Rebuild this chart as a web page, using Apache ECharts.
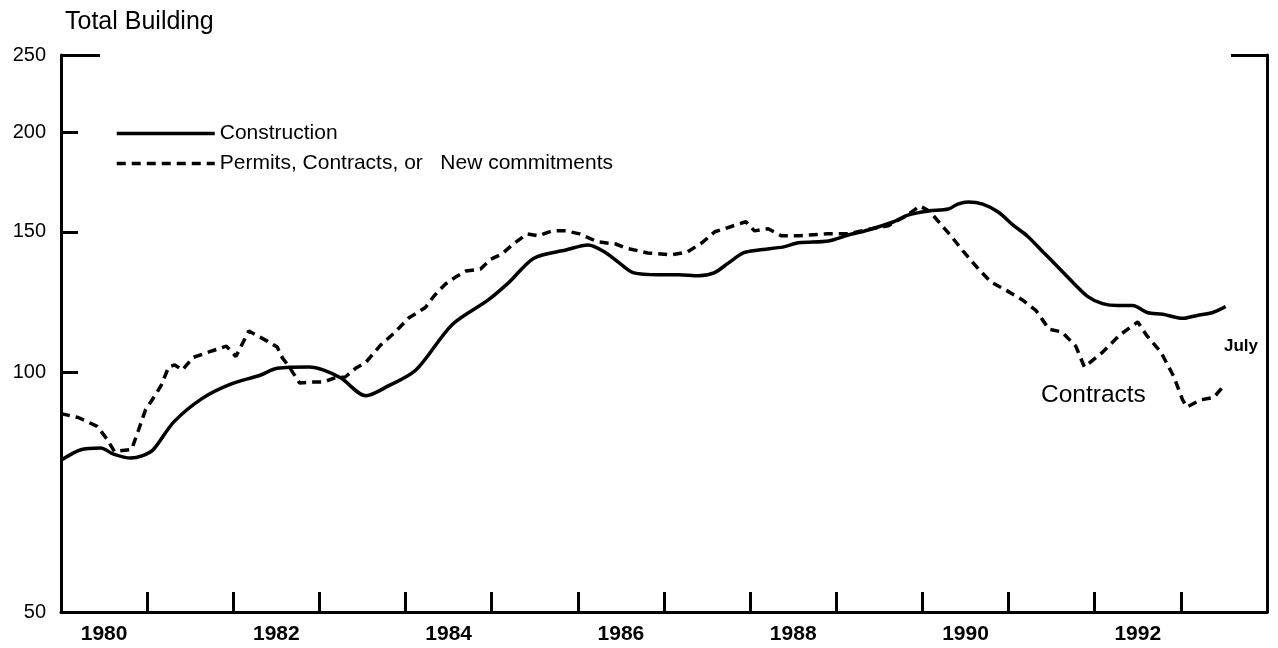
<!DOCTYPE html>
<html>
<head>
<meta charset="utf-8">
<script src="https://cdn.jsdelivr.net/npm/echarts@6/dist/echarts.min.js"></script>
<style>
  html, body { margin: 0; padding: 0; background: #fff; }
  #chart { width: 1278px; height: 648px; }
</style>
</head>
<body>
<div id="chart"></div>
<script>
// ---- Data (decimal year, index value) ----
const constructionT = [1980.00,1980.23,1980.46,1980.61,1980.81,1980.94,1981.07,1981.31,1981.64,1981.97,1982.31,1982.51,1982.88,1983.05,1983.25,1983.54,1983.80,1984.12,1984.54,1984.96,1985.20,1985.49,1985.86,1986.12,1986.31,1986.48,1986.65,1986.94,1987.17,1987.40,1987.58,1987.75,1987.92,1988.10,1988.39,1988.56,1988.91,1989.14,1989.37,1989.66,1989.83,1990.07,1990.30,1990.41,1990.53,1990.70,1990.88,1991.05,1991.22,1991.40,1991.57,1991.75,1991.92,1992.09,1992.27,1992.44,1992.61,1992.79,1993.02,1993.19,1993.37,1993.52];
const constructionV = [77.5,79.9,80.3,78.9,78.0,78.5,79.9,86.6,92.7,96.6,99.1,101.1,101.5,100.6,98.3,93.4,96.1,100.6,114.7,123.2,129.6,139.0,142.3,144.4,141.5,137.1,133.2,132.5,132.5,132.1,133.2,137.1,141.1,142.3,143.6,145.3,146.1,148.6,150.8,154.3,157.4,159.3,160.2,162.5,163.5,162.5,158.8,153.0,148.1,141.5,135.6,129.5,124.4,121.9,121.2,121.2,118.8,118.2,116.8,117.8,118.8,120.9];

const permitsT = [1980.00,1980.20,1980.42,1980.53,1980.62,1980.82,1980.90,1980.98,1981.09,1981.16,1981.25,1981.32,1981.41,1981.53,1981.75,1981.92,1982.03,1982.18,1982.40,1982.51,1982.57,1982.65,1982.77,1982.91,1983.05,1983.17,1983.30,1983.42,1983.54,1983.71,1983.88,1984.04,1984.23,1984.33,1984.46,1984.58,1984.70,1984.87,1984.99,1985.12,1985.25,1985.41,1985.54,1985.70,1985.86,1986.02,1986.23,1986.44,1986.56,1986.81,1987.08,1987.27,1987.44,1987.59,1987.95,1988.05,1988.21,1988.36,1988.57,1988.88,1989.14,1989.41,1989.60,1989.81,1989.97,1990.08,1990.23,1990.33,1990.48,1990.65,1990.80,1990.95,1991.16,1991.32,1991.47,1991.62,1991.78,1991.88,1992.09,1992.29,1992.50,1992.60,1992.77,1992.92,1993.02,1993.07,1993.23,1993.38,1993.48];
const permitsV = [88.7,87.7,85.5,82.5,79.5,80.0,84.6,89.6,93.4,96.1,101.5,102.1,100.6,104.3,106.3,107.8,104.6,112.6,109.3,107.5,104.2,101.5,96.9,97.2,97.2,98.3,98.6,101.1,102.9,108.1,112.3,117.0,120.5,124.6,128.9,131.6,133.9,134.7,138.6,140.7,144.8,149.1,148.3,150.4,150.4,149.1,145.7,144.8,143.1,141.1,140.3,141.5,145.3,150.0,154.4,150.4,151.3,148.3,148.3,149.1,149.1,151.3,152.6,157.0,161.6,159.3,152.6,148.3,141.5,134.7,129.6,127.1,123.2,119.4,113.2,112.3,107.8,101.5,105.9,111.3,115.6,111.3,105.9,98.6,92.3,90.4,92.3,92.9,95.6];

const seriesNames = ['Construction', 'Permits, Contracts, or   New commitments'];
const labelYears = [1980, 1982, 1984, 1986, 1988, 1990, 1992];
const tickYears = [1981, 1982, 1983, 1984, 1985, 1986, 1987, 1988, 1989, 1990, 1991, 1992, 1993];
const yLabels = [50, 100, 150, 200, 250];
const yShortTicks = [100, 150, 200];
const yLongTicks = [250];
const titleText = 'Total Building';
const noteContracts = 'Contracts';
const noteJuly = 'July';

// ---- Build ----
const FONT = '"Liberation Sans", Arial, Helvetica, sans-serif';
const pair = (ts, vs) => ts.map((t, i) => [t, vs[i]]);

const chart = echarts.init(document.getElementById('chart'), null, { renderer: 'canvas' });

const baseY = { type: 'log', logBase: 10, min: 50, max: 250, splitLine: { show: false } };

chart.setOption({
  animation: false,
  backgroundColor: '#ffffff',
  title: {
    text: titleText,
    left: 60, top: 5,
    textStyle: { fontFamily: FONT, fontSize: 25, fontWeight: 'normal', color: '#000' }
  },
  legend: {
    orient: 'vertical',
    left: 115, top: 123, padding: 0,
    itemWidth: 98, itemHeight: 14, itemGap: 9,
    itemStyle: { opacity: 0 },
    lineStyle: { width: 3.5 },
    textStyle: { fontFamily: FONT, fontSize: 21, color: '#000' },
    data: seriesNames
  },
  grid: { left: 61, right: 11, top: 55, bottom: 36, containLabel: false },
  xAxis: {
    type: 'value', min: 1980, max: 1994,
    splitLine: { show: false },
    axisLine: { show: true, onZero: false, lineStyle: { color: '#000', width: 3 } },
    axisTick: { show: true, inside: true, length: 20, lineStyle: { color: '#000', width: 3 },
                customValues: tickYears },
    axisLabel: { show: true, margin: 12, color: '#000', fontFamily: FONT, fontSize: 21, fontWeight: 'bold',
                 customValues: labelYears.map(y => y + 0.5),
                 formatter: v => String(Math.floor(v)) }
  },
  yAxis: [
    Object.assign({}, baseY, {
      position: 'left',
      axisLine: { show: true, lineStyle: { color: '#000', width: 3 } },
      axisTick: { show: true, inside: true, length: 17, lineStyle: { color: '#000', width: 3 },
                  customValues: yShortTicks },
      axisLabel: { show: true, margin: 15, color: '#000', fontFamily: FONT, fontSize: 20,
                   customValues: yLabels, formatter: v => String(Math.round(v)) }
    }),
    Object.assign({}, baseY, {
      position: 'left', offset: 0,
      axisLine: { show: false },
      axisTick: { show: true, inside: true, length: 39, lineStyle: { color: '#000', width: 3 },
                  customValues: yLongTicks },
      axisLabel: { show: false }
    }),
    Object.assign({}, baseY, {
      position: 'right', offset: 0,
      axisLine: { show: true, lineStyle: { color: '#000', width: 3 } },
      axisTick: { show: true, inside: true, length: 36, lineStyle: { color: '#000', width: 3 },
                  customValues: yLongTicks },
      axisLabel: { show: false }
    })
  ],
  series: [
    {
      name: seriesNames[0], type: 'line', yAxisIndex: 0,
      data: pair(constructionT, constructionV),
      showSymbol: false, symbol: 'none', smooth: 0.3,
      lineStyle: { color: '#000', width: 3.5, type: 'solid' },
      itemStyle: { color: '#000' }
    },
    {
      name: seriesNames[1], type: 'line', yAxisIndex: 0,
      data: pair(permitsT, permitsV),
      showSymbol: false, symbol: 'none', smooth: false,
      lineStyle: { color: '#000', width: 3.5, type: [9, 6] },
      itemStyle: { color: '#000' }
    }
  ],
  graphic: [
    { type: 'text', left: 1041, top: 383,
      style: { text: noteContracts, font: '24.5px ' + FONT, fill: '#000' } },
    { type: 'text', left: 1224, top: 338,
      style: { text: noteJuly, font: 'bold 17px ' + FONT, fill: '#000' } }
  ]
});
</script>
</body>
</html>
